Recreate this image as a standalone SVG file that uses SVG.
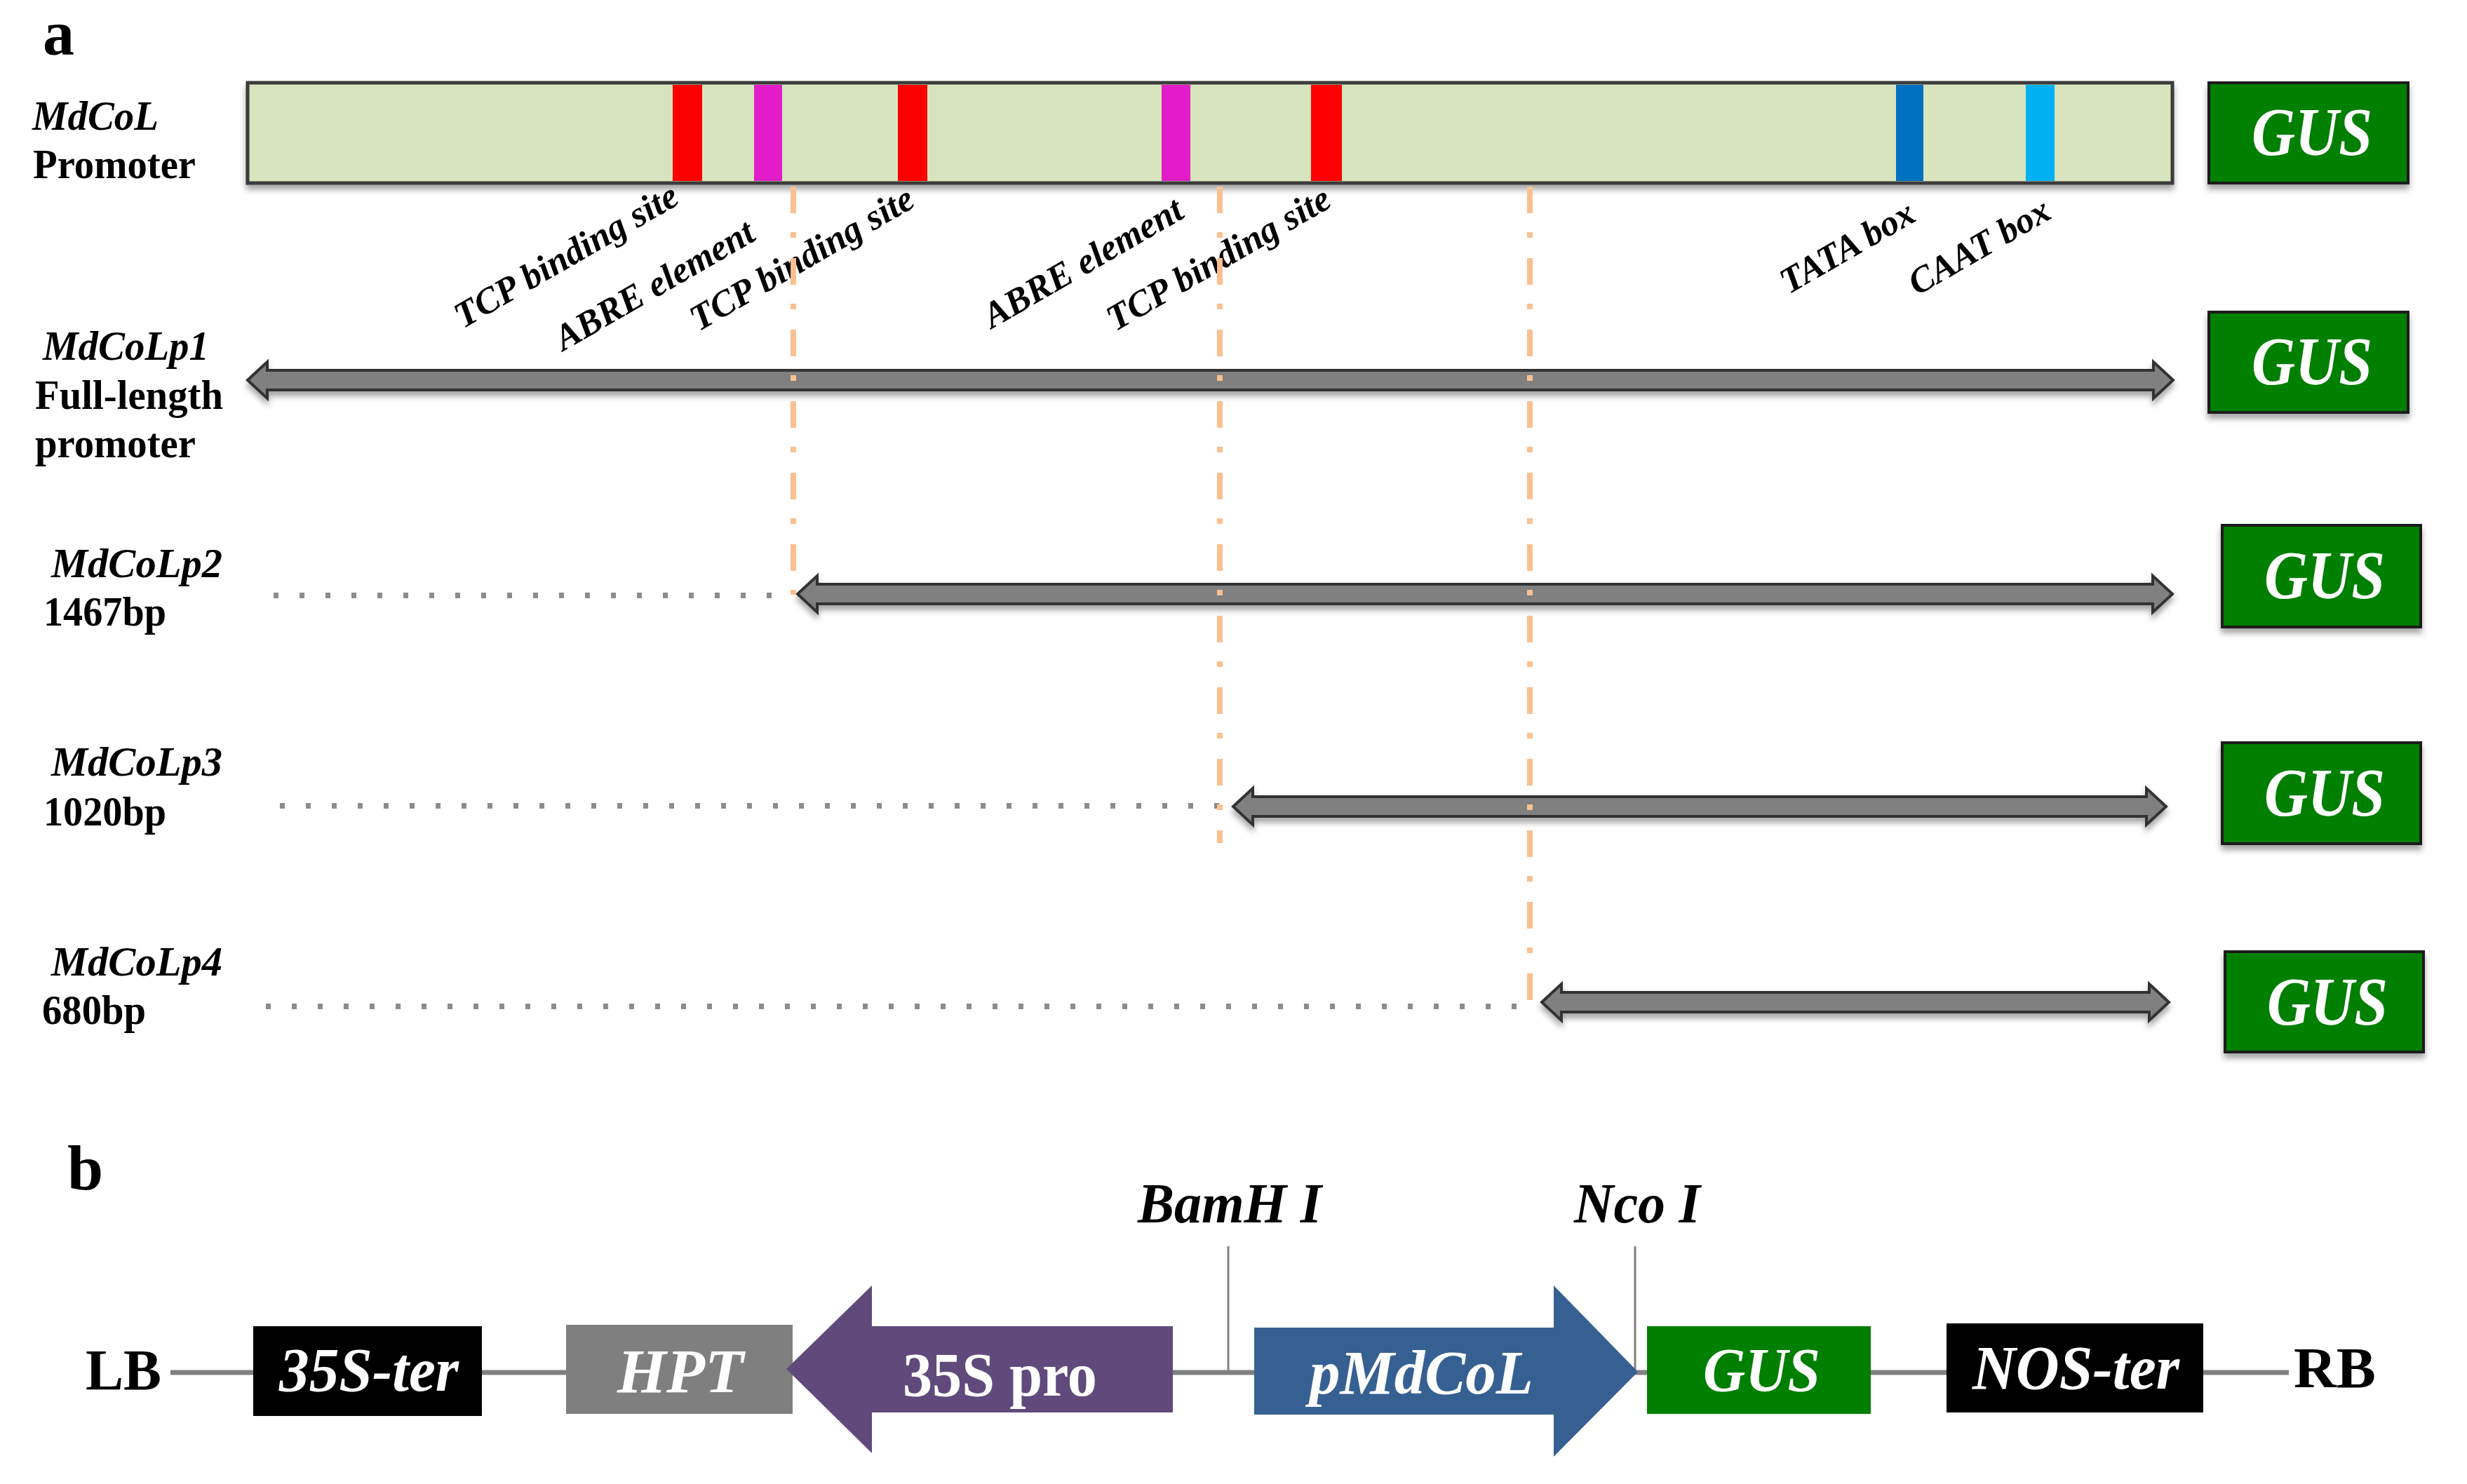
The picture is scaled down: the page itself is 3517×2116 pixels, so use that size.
<svg xmlns="http://www.w3.org/2000/svg" width="3517" height="2116" viewBox="0 0 3517 2116">
<defs>
<filter id="sh" x="-5%" y="-30%" width="110%" height="180%">
<feDropShadow dx="0" dy="7" stdDeviation="4" flood-color="#000" flood-opacity="0.35"/>
</filter>
<style>
text{font-family:"Liberation Serif","Times New Roman",serif;}
.lbl{font-size:59px;font-weight:bold;fill:#000;}
.it{font-style:italic;}
.site{font-size:52px;font-weight:bold;font-style:italic;fill:#000;}
.gus{fill:#007F00;stroke:#1a1a1a;stroke-width:4;}
.gust{font-size:98px;font-style:italic;font-weight:bold;fill:#fff;}
.arr{fill:#808080;stroke:#333;stroke-width:4;stroke-linejoin:miter;}
.orange{stroke:#FAC090;stroke-width:8;fill:none;stroke-dasharray:38 27 8 29;}
.dots{stroke:#8c8c8c;stroke-width:8;fill:none;stroke-dasharray:7 30;}
.bt{font-size:88px;font-weight:bold;font-style:italic;fill:#fff;}
.bk{font-size:82px;font-weight:bold;fill:#000;}
</style>
</defs>
<rect width="3517" height="2116" fill="#fff"/>

<!-- Panel a -->
<text x="61" y="78" font-size="90" font-weight="bold">a</text>

<g id="promoter-bar">
<rect x="353" y="118" width="2744" height="143" fill="#D7E4BD" stroke="#3a3a3a" stroke-width="5" filter="url(#sh)"/>
<rect x="959" y="121" width="42" height="137" fill="#FF0000"/>
<rect x="1075" y="121" width="40" height="137" fill="#E11CC8"/>
<rect x="1280" y="121" width="42" height="137" fill="#FF0000"/>
<rect x="1656" y="121" width="41" height="137" fill="#E11CC8"/>
<rect x="1869" y="121" width="44" height="137" fill="#FF0000"/>
<rect x="2703" y="121" width="39" height="137" fill="#0070C0"/>
<rect x="2888" y="121" width="41" height="137" fill="#00B0F0"/>
<text class="lbl it" x="46" y="185" textLength="180" lengthAdjust="spacingAndGlyphs">MdCoL</text>
<text class="lbl" x="47" y="254" textLength="232" lengthAdjust="spacingAndGlyphs">Promoter</text>
</g>

<g id="site-labels">
<text class="site" transform="translate(660,469) rotate(-30)">TCP binding site</text>
<text class="site" transform="translate(803,501) rotate(-30)">ABRE element</text>
<text class="site" transform="translate(996,473) rotate(-30)">TCP binding site</text>
<text class="site" transform="translate(1414,469) rotate(-30)">ABRE element</text>
<text class="site" transform="translate(1590,473) rotate(-30)">TCP binding site</text>
<text class="site" transform="translate(2550,420) rotate(-30)">TATA box</text>
<text class="site" transform="translate(2733,422) rotate(-30)">CAAT box</text>
</g>

<g id="gus-a0">
<rect class="gus" x="3149" y="118" width="284" height="143" filter="url(#sh)"/>
<text class="gust" x="3210" y="221" textLength="172" lengthAdjust="spacingAndGlyphs">GUS</text>
</g>

<g id="row1">
<path class="arr" filter="url(#sh)" d="M353,542 L381,516 L381,528 L3070,528 L3070,516 L3098,542 L3070,568 L3070,556 L381,556 L381,568 Z"/>
<text class="lbl it" x="61" y="513" textLength="237" lengthAdjust="spacingAndGlyphs">MdCoLp1</text>
<text class="lbl" x="50" y="583" textLength="268" lengthAdjust="spacingAndGlyphs">Full-length</text>
<text class="lbl" x="50" y="652" textLength="229" lengthAdjust="spacingAndGlyphs">promoter</text>
</g>
<g id="gus-a1">
<rect class="gus" x="3149" y="445" width="284" height="143" filter="url(#sh)"/>
<text class="gust" x="3210" y="548" textLength="172" lengthAdjust="spacingAndGlyphs">GUS</text>
</g>

<g id="row2">
<path class="arr" filter="url(#sh)" d="M1137,847 L1165,821 L1165,833 L3069,833 L3069,821 L3097,847 L3069,873 L3069,861 L1165,861 L1165,873 Z"/>
<text class="lbl it" x="73" y="823" textLength="244" lengthAdjust="spacingAndGlyphs">MdCoLp2</text>
<text class="lbl" x="62" y="892" textLength="175" lengthAdjust="spacingAndGlyphs">1467bp</text>
</g>
<g id="gus-a2">
<rect class="gus" x="3168" y="749" width="283" height="145" filter="url(#sh)"/>
<text class="gust" x="3228" y="853" textLength="172" lengthAdjust="spacingAndGlyphs">GUS</text>
</g>

<g id="row3">
<path class="arr" filter="url(#sh)" d="M1758,1150 L1786,1124 L1786,1136 L3060,1136 L3060,1124 L3088,1150 L3060,1176 L3060,1164 L1786,1164 L1786,1176 Z"/>
<text class="lbl it" x="73" y="1106" textLength="244" lengthAdjust="spacingAndGlyphs">MdCoLp3</text>
<text class="lbl" x="62" y="1177" textLength="175" lengthAdjust="spacingAndGlyphs">1020bp</text>
</g>
<g id="gus-a3">
<rect class="gus" x="3168" y="1059" width="283" height="144" filter="url(#sh)"/>
<text class="gust" x="3228" y="1163" textLength="172" lengthAdjust="spacingAndGlyphs">GUS</text>
</g>

<g id="row4">
<path class="arr" filter="url(#sh)" d="M2198,1429 L2226,1403 L2226,1415 L3064,1415 L3064,1403 L3092,1429 L3064,1455 L3064,1443 L2226,1443 L2226,1455 Z"/>
<text class="lbl it" x="73" y="1391" textLength="244" lengthAdjust="spacingAndGlyphs">MdCoLp4</text>
<text class="lbl" x="60" y="1460" textLength="148" lengthAdjust="spacingAndGlyphs">680bp</text>
</g>
<g id="gus-a4">
<rect class="gus" x="3172" y="1357" width="283" height="143" filter="url(#sh)"/>
<text class="gust" x="3232" y="1461" textLength="172" lengthAdjust="spacingAndGlyphs">GUS</text>
</g>

<g id="connectors">
<line class="dots" x1="390" y1="849" x2="1110" y2="849"/>
<line class="dots" x1="399" y1="1149" x2="1745" y2="1149"/>
<line class="dots" x1="379" y1="1435" x2="2170" y2="1435"/>
<line class="orange" x1="1131" y1="266" x2="1131" y2="848"/>
<line class="orange" x1="1739" y1="266" x2="1739" y2="1202"/>
<line class="orange" x1="2181" y1="266" x2="2181" y2="1430"/>
<line x1="243" y1="1957" x2="3263" y2="1957" stroke="#808080" stroke-width="7"/>
<line x1="1751" y1="1777" x2="1751" y2="1957" stroke="#808080" stroke-width="3"/>
<line x1="2331" y1="1777" x2="2331" y2="1957" stroke="#808080" stroke-width="3"/>
</g>

<!-- Panel b -->
<text x="96" y="1696" font-size="92" font-weight="bold">b</text>
<g id="LB"><text class="bk" x="122" y="1981" textLength="108" lengthAdjust="spacingAndGlyphs">LB</text></g>
<g id="ter35S">
<rect x="361" y="1891" width="326" height="128" fill="#000"/>
<text class="bt" x="398" y="1983" textLength="256" lengthAdjust="spacingAndGlyphs">35S-ter</text>
</g>
<g id="HPT">
<rect x="807" y="1889" width="323" height="127" fill="#7F7F7F"/>
<text class="bt" x="880" y="1985" textLength="180" lengthAdjust="spacingAndGlyphs">HPT</text>
</g>
<g id="pro35S">
<path d="M1121,1952 L1243,1833 L1243,1891 L1672,1891 L1672,2014 L1243,2014 L1243,2072 Z" fill="#604A7B"/>
<text x="1287" y="1990" font-size="88" font-weight="bold" fill="#fff" textLength="277" lengthAdjust="spacingAndGlyphs">35S pro</text>
</g>
<g id="BamHI"><text x="1622" y="1743" font-size="80" font-weight="bold" font-style="italic" textLength="262" lengthAdjust="spacingAndGlyphs">BamH I</text></g>
<g id="pMdCoL">
<path d="M1788,1893 L2215,1893 L2215,1833 L2335,1956 L2215,2077 L2215,2017 L1788,2017 Z" fill="#366092"/>
<text class="bt" x="1867" y="1987" textLength="319" lengthAdjust="spacingAndGlyphs">pMdCoL</text>
</g>
<g id="NcoI"><text x="2244" y="1743" font-size="80" font-weight="bold" font-style="italic" textLength="180" lengthAdjust="spacingAndGlyphs">Nco I</text></g>
<g id="GUS-b">
<rect x="2348" y="1891" width="319" height="125" fill="#007F00"/>
<text class="bt" x="2428" y="1983" textLength="167" lengthAdjust="spacingAndGlyphs">GUS</text>
</g>
<g id="NOS-ter">
<rect x="2775" y="1887" width="366" height="127" fill="#000"/>
<text class="bt" x="2812" y="1980" textLength="295" lengthAdjust="spacingAndGlyphs">NOS-ter</text>
</g>
<g id="RB"><text class="bk" x="3270" y="1978" textLength="117" lengthAdjust="spacingAndGlyphs">RB</text></g>
</svg>
